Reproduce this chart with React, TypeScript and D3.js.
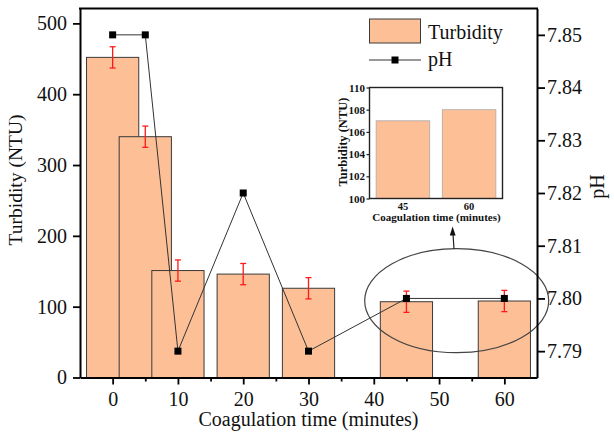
import React, { useEffect, useRef } from "react";
import * as d3 from "d3";

// chart data
const times = [0, 5, 10, 20, 30, 45, 60];
const turbidity = [452, 340, 151, 146, 126, 107, 108];
const turbidityErr = [15, 15, 15, 15, 15, 15, 15];
const phValues = [7.85, 7.85, 7.79, 7.82, 7.79, 7.8, 7.8];

const xTicks = [0, 10, 20, 30, 40, 50, 60];
const xMinorTicks = [5, 15, 25, 35, 45, 55];
const turbTicks = [0, 100, 200, 300, 400, 500];
const phTicks = [7.79, 7.8, 7.81, 7.82, 7.83, 7.84, 7.85];

// zoomed inset
const insetTimes = ["45", "60"];
const insetTurbidity = [107, 108];
const insetTicks = [100, 102, 104, 106, 108, 110];

const BAR_FILL = "#FDBF96";
const FONT = "'Liberation Serif', 'Times New Roman', serif";

const App = () => {
  const svgRef = useRef<SVGSVGElement>(null);

  const W = 614;
  const H = 437;
  const plot = { left: 80, right: 537, top: 8.5, bottom: 377.5 };

  useEffect(() => {
    const svg = d3.select(svgRef.current);
    svg.selectAll("*").remove();

    const x = d3.scaleLinear().domain([-5, 65]).range([plot.left, plot.right]);
    const y = d3.scaleLinear().domain([0, 521]).range([plot.bottom, plot.top]);
    const yPh = d3
      .scaleLinear()
      .domain([7.785, 7.855])
      .range([plot.bottom, plot.top]);
    const barHalf = 4; // bar width in minutes / 2

    const data = times.map((t, i) => ({
      t,
      v: turbidity[i],
      e: turbidityErr[i],
      ph: phValues[i],
    }));

    // Bars
    svg
      .append("g")
      .selectAll("rect")
      .data(data)
      .enter()
      .append("rect")
      .attr("x", (d) => x(d.t - barHalf))
      .attr("y", (d) => y(d.v))
      .attr("width", (d) => x(d.t + barHalf) - x(d.t - barHalf))
      .attr("height", (d) => y(0) - y(d.v))
      .attr("fill", BAR_FILL)
      .attr("stroke", "#3a3a3a")
      .attr("stroke-width", 1);

    // Error bars
    const err = svg.append("g").attr("stroke", "#ff1a1a").attr("stroke-width", 1.3);
    data.forEach((d) => {
      const cx = x(d.t);
      err.append("line").attr("x1", cx).attr("x2", cx).attr("y1", y(d.v - d.e)).attr("y2", y(d.v + d.e));
      err.append("line").attr("x1", cx - 3).attr("x2", cx + 3).attr("y1", y(d.v - d.e)).attr("y2", y(d.v - d.e));
      err.append("line").attr("x1", cx - 3).attr("x2", cx + 3).attr("y1", y(d.v + d.e)).attr("y2", y(d.v + d.e));
    });

    // pH line + markers
    const line = d3
      .line<{ t: number; ph: number }>()
      .x((d) => x(d.t))
      .y((d) => yPh(d.ph));
    svg
      .append("path")
      .datum(data)
      .attr("d", line)
      .attr("fill", "none")
      .attr("stroke", "#333")
      .attr("stroke-width", 1);
    svg
      .append("g")
      .selectAll("rect")
      .data(data)
      .enter()
      .append("rect")
      .attr("x", (d) => x(d.t) - 3.5)
      .attr("y", (d) => yPh(d.ph) - 3.5)
      .attr("width", 7)
      .attr("height", 7)
      .attr("fill", "#000");

    // Ellipse highlighting 45 / 60 min + arrow to inset
    svg
      .append("ellipse")
      .attr("cx", 456.7)
      .attr("cy", 300.7)
      .attr("rx", 92)
      .attr("ry", 52)
      .attr("fill", "none")
      .attr("stroke", "#444")
      .attr("stroke-width", 1.2);
    svg
      .append("line")
      .attr("x1", 454)
      .attr("y1", 249)
      .attr("x2", 453)
      .attr("y2", 234)
      .attr("stroke", "#222")
      .attr("stroke-width", 1.2);
    svg
      .append("path")
      .attr("d", "M452.6,226.5 L455.6,235.5 L449.8,235.5 Z")
      .attr("fill", "#111");

    // Axes
    const styleAxis = (g, size) => {
      g.selectAll(".domain").attr("stroke-width", 2).attr("stroke", "#000");
      g.selectAll(".tick line").attr("stroke-width", 1.8).attr("stroke", "#000");
      g.selectAll("text").attr("font-size", size).attr("font-family", FONT).attr("fill", "#111");
    };

    const xAxis = svg
      .append("g")
      .attr("transform", `translate(0,${plot.bottom})`)
      .call(d3.axisBottom(x).tickValues(xTicks).tickSize(7).tickPadding(7).tickSizeOuter(0));
    styleAxis(xAxis, 20);

    const xMinor = svg
      .append("g")
      .attr("transform", `translate(0,${plot.bottom})`)
      .call(d3.axisBottom(x).tickValues(xMinorTicks).tickSize(4).tickFormat(() => ""));
    xMinor.select(".domain").remove();
    styleAxis(xMinor, 20);

    const yAxis = svg
      .append("g")
      .attr("transform", `translate(${plot.left},0)`)
      .call(d3.axisLeft(y).tickValues(turbTicks).tickSize(7).tickPadding(6).tickSizeOuter(0));
    styleAxis(yAxis, 20);

    const yRight = svg
      .append("g")
      .attr("transform", `translate(${plot.right},0)`)
      .call(
        d3
          .axisRight(yPh)
          .tickValues(phTicks)
          .tickSize(8)
          .tickPadding(2)
          .tickSizeOuter(0)
          .tickFormat(d3.format(".2f"))
      );
    styleAxis(yRight, 20);

    // top frame line
    svg
      .append("line")
      .attr("x1", plot.left - 1)
      .attr("x2", plot.right + 1)
      .attr("y1", plot.top)
      .attr("y2", plot.top)
      .attr("stroke", "#000")
      .attr("stroke-width", 2);

    // Axis titles
    svg
      .append("text")
      .attr("x", (plot.left + plot.right) / 2)
      .attr("y", 426)
      .attr("text-anchor", "middle")
      .attr("font-size", 20)
      .attr("font-family", FONT)
      .attr("fill", "#111")
      .text("Coagulation time (minutes)");
    svg
      .append("text")
      .attr("transform", "translate(22,180)rotate(-90)")
      .attr("text-anchor", "middle")
      .attr("font-size", 19.5)
      .attr("font-family", FONT)
      .attr("fill", "#111")
      .text("Turbidity (NTU)");
    svg
      .append("text")
      .attr("transform", "translate(604,186.5)rotate(-90)")
      .attr("text-anchor", "middle")
      .attr("font-size", 20)
      .attr("font-family", FONT)
      .attr("fill", "#111")
      .text("pH");

    // Legend
    const legend = svg.append("g").attr("font-family", FONT).attr("font-size", 20).attr("fill", "#111");
    legend
      .append("rect")
      .attr("x", 369.5)
      .attr("y", 19)
      .attr("width", 51)
      .attr("height", 24)
      .attr("fill", BAR_FILL)
      .attr("stroke", "#3a3a3a");
    legend.append("text").attr("x", 428).attr("y", 38.5).text("Turbidity");
    legend
      .append("line")
      .attr("x1", 369)
      .attr("x2", 421)
      .attr("y1", 60)
      .attr("y2", 60)
      .attr("stroke", "#333");
    legend.append("rect").attr("x", 391.5).attr("y", 56.5).attr("width", 7).attr("height", 7).attr("fill", "#000");
    legend.append("text").attr("x", 428).attr("y", 66).text("pH");

    // Inset chart
    const inset = { left: 369.5, right: 502.5, top: 87.5, bottom: 198.5 };
    const ix = d3
      .scaleBand()
      .domain(insetTimes)
      .range([inset.left, inset.right])
      .paddingInner(0.19)
      .paddingOuter(0.1);
    const iy = d3.scaleLinear().domain([100, 110]).range([inset.bottom, inset.top]);

    const ig = svg.append("g");
    ig.append("rect")
      .attr("x", inset.left)
      .attr("y", inset.top)
      .attr("width", inset.right - inset.left)
      .attr("height", inset.bottom - inset.top)
      .attr("fill", "#fff")
      .attr("stroke", "none");
    ig.selectAll(".ibar")
      .data(insetTimes.map((c, i) => ({ c, v: insetTurbidity[i] })))
      .enter()
      .append("rect")
      .attr("x", (d) => ix(d.c))
      .attr("y", (d) => iy(d.v))
      .attr("width", ix.bandwidth())
      .attr("height", (d) => iy(100) - iy(d.v))
      .attr("fill", BAR_FILL)
      .attr("stroke", "#aaa")
      .attr("stroke-width", 0.8);
    ig.append("rect")
      .attr("x", inset.left)
      .attr("y", inset.top)
      .attr("width", inset.right - inset.left)
      .attr("height", inset.bottom - inset.top)
      .attr("fill", "none")
      .attr("stroke", "#222")
      .attr("stroke-width", 1.4);

    const iyAxis = ig
      .append("g")
      .attr("transform", `translate(${inset.left},0)`)
      .call(d3.axisLeft(iy).tickValues(insetTicks).tickSize(3).tickPadding(1.5).tickSizeOuter(0));
    iyAxis.select(".domain").remove();
    iyAxis.selectAll(".tick line").attr("stroke", "#222").attr("stroke-width", 1.2);
    iyAxis
      .selectAll("text")
      .attr("font-size", 11)
      .attr("font-weight", "bold")
      .attr("font-family", FONT)
      .attr("fill", "#111");

    ig.selectAll(".ilabel")
      .data(insetTimes)
      .enter()
      .append("text")
      .attr("x", (d) => ix(d) + ix.bandwidth() / 2)
      .attr("y", 209.5)
      .attr("text-anchor", "middle")
      .attr("font-size", 10.5)
      .attr("font-weight", "bold")
      .attr("font-family", FONT)
      .attr("fill", "#111")
      .text((d) => d);
    ig.append("text")
      .attr("x", 436.5)
      .attr("y", 221)
      .attr("text-anchor", "middle")
      .attr("font-size", 11)
      .attr("font-weight", "bold")
      .attr("font-family", FONT)
      .attr("fill", "#111")
      .text("Coagulation time (minutes)");
    ig.append("text")
      .attr("transform", "translate(347,142)rotate(-90)")
      .attr("text-anchor", "middle")
      .attr("font-size", 12.5)
      .attr("font-weight", "bold")
      .attr("font-family", FONT)
      .attr("fill", "#111")
      .text("Turbidity (NTU)");
  }, []);

  return (
    <svg
      ref={svgRef}
      width={W}
      height={H}
      style={{ position: "absolute", left: 0, top: 0, background: "#fff" }}
    />
  );
};

export default App;
